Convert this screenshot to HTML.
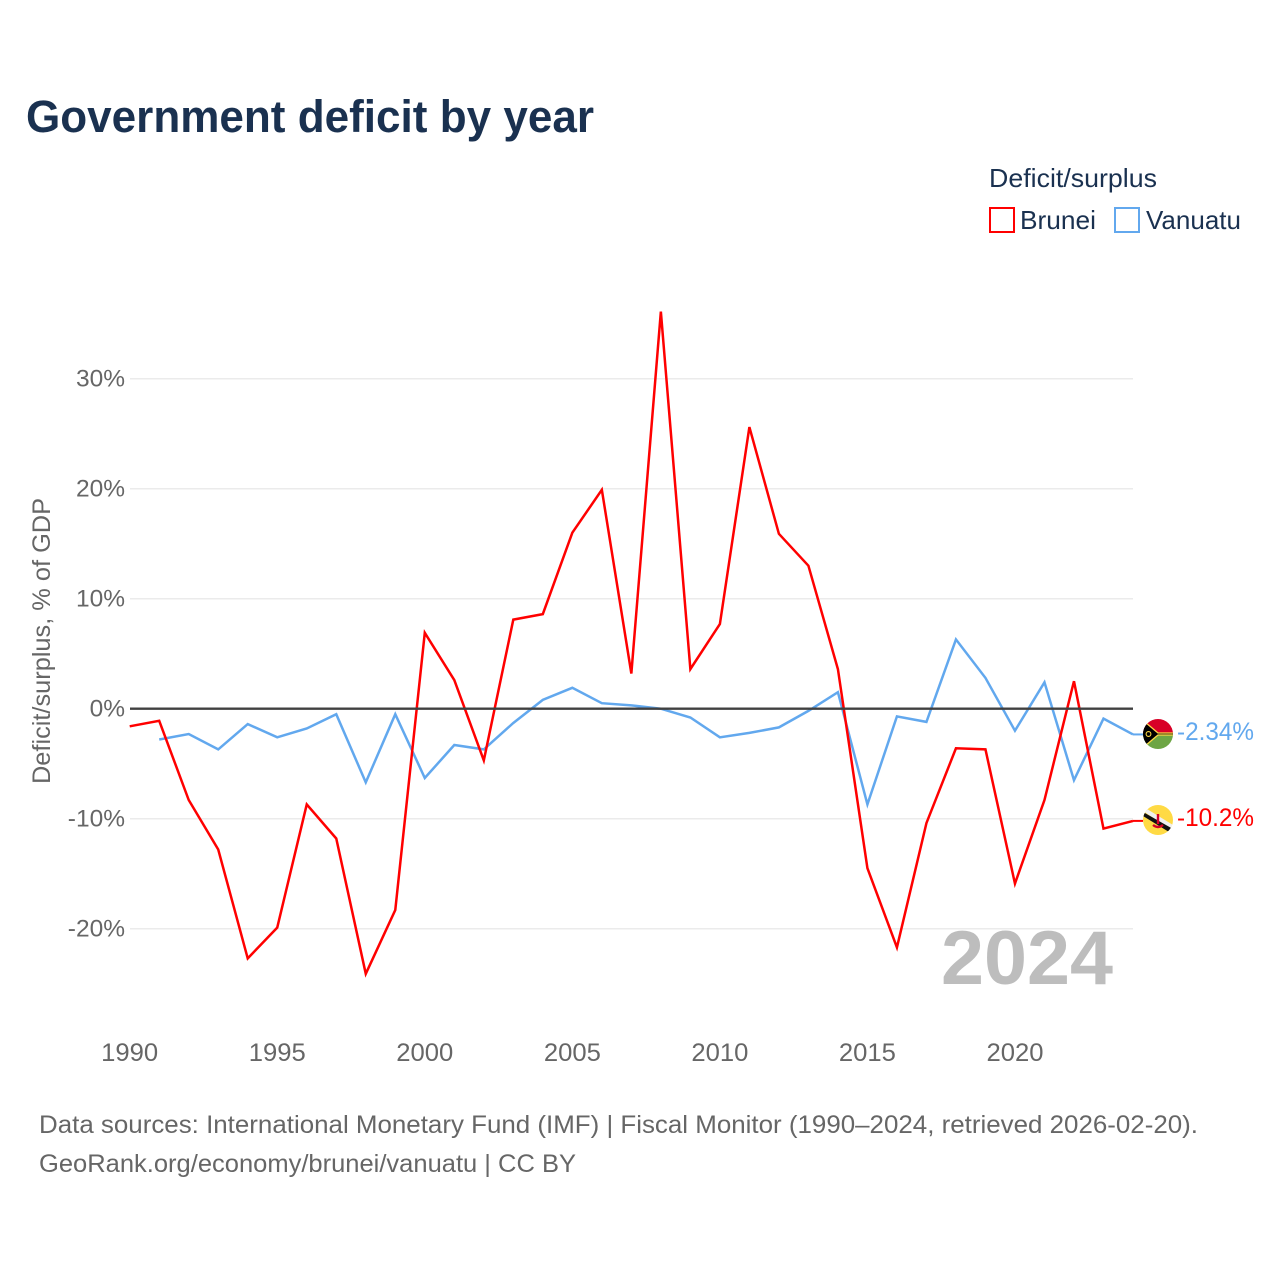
<!DOCTYPE html>
<html lang="en">
<head>
<meta charset="utf-8">
<title>Government deficit by year</title>
<style>
html,body{margin:0;padding:0;background:#fff;}
svg{display:block;font-family:"Liberation Sans",sans-serif;}
</style>
</head>
<body>
<svg id="chart" xmlns="http://www.w3.org/2000/svg" width="1280" height="1280" viewBox="0 0 1280 1280">
  <rect width="1280" height="1280" fill="#fff"/>
  <text x="26" y="132" font-size="45" font-weight="700" fill="#1a3150" textLength="568" lengthAdjust="spacingAndGlyphs">Government deficit by year</text>

  <g>
    <text x="989" y="187" font-size="26" fill="#1a3150" textLength="168" lengthAdjust="spacingAndGlyphs">Deficit/surplus</text>
    <rect x="990" y="208" width="24" height="24" fill="#fff" stroke="#ff0000" stroke-width="2"/>
    <text x="1020" y="229" font-size="26" fill="#1a3150" textLength="76" lengthAdjust="spacingAndGlyphs">Brunei</text>
    <rect x="1115" y="208" width="24" height="24" fill="#fff" stroke="#62a8ee" stroke-width="2"/>
    <text x="1146" y="229" font-size="26" fill="#1a3150" textLength="95" lengthAdjust="spacingAndGlyphs">Vanuatu</text>
  </g>

  <g id="grid"></g>
  <g id="yticks"></g>
  <g id="xticks"></g>
  <text transform="translate(50,641) rotate(-90)" text-anchor="middle" font-size="25" fill="#666" textLength="286" lengthAdjust="spacingAndGlyphs">Deficit/surplus, % of GDP</text>

  <text x="1113" y="984" text-anchor="end" font-size="76" font-weight="700" fill="#bdbdbd" textLength="172" lengthAdjust="spacingAndGlyphs">2024</text>

  <g id="series"></g>
  <line id="zero" x1="130" x2="1133" stroke="#404040" stroke-width="2.4"/>

  <defs>
    <clipPath id="clip-flag-vu"><circle cx="1158" cy="734" r="15"/></clipPath>
    <clipPath id="clip-flag-bn"><circle cx="1158" cy="820" r="15"/></clipPath>
  </defs>
  <g clip-path="url(#clip-flag-vu)">
    <rect x="1143" y="719" width="30" height="15" fill="#d80027"/>
    <rect x="1143" y="734" width="30" height="15" fill="#6da544"/>
    <rect x="1143" y="732.5" width="30" height="3" fill="#000"/>
    <polygon points="1143,721 1158,734 1143,747" fill="#000"/>
    <path d="M1145,722 L1158,733 H1173 M1145,746 L1158,735 H1173" fill="none" stroke="#ffda44" stroke-width="1.2"/>
    <circle cx="1148.5" cy="734" r="2.4" fill="none" stroke="#ffda44" stroke-width="1.1"/>
  </g>
  <g clip-path="url(#clip-flag-bn)">
    <rect x="1143" y="805" width="30" height="30" fill="#ffda44"/>
    <polygon points="1143,811 1147,809 1173,825 1173,831" fill="#f0f0f0"/>
    <polygon points="1143,812 1143,816 1169,832 1173,829" fill="#111"/>
    <path d="M1158,814 V824 M1153,825 Q1158,829 1163,825" fill="none" stroke="#d80027" stroke-width="2.4"/>
  </g>

  <g id="endlabels"></g>

  <text x="39" y="1133" font-size="25" fill="#666" textLength="1159" lengthAdjust="spacingAndGlyphs">Data sources: International Monetary Fund (IMF) | Fiscal Monitor (1990–2024, retrieved 2026-02-20).</text>
  <text x="39" y="1172" font-size="25" fill="#666" textLength="537" lengthAdjust="spacingAndGlyphs">GeoRank.org/economy/brunei/vanuatu | CC BY</text>
</svg>
<script>
const years = [1990,1991,1992,1993,1994,1995,1996,1997,1998,1999,2000,2001,2002,2003,2004,2005,2006,2007,2008,2009,2010,2011,2012,2013,2014,2015,2016,2017,2018,2019,2020,2021,2022,2023,2024];
const bruneiValues = [-1.6,-1.1,-8.3,-12.8,-22.7,-19.9,-8.7,-11.8,-24.1,-18.3,6.9,2.6,-4.7,8.1,8.6,16,19.9,3.2,36.1,3.6,7.7,25.6,15.9,13,3.6,-14.5,-21.7,-10.4,-3.6,-3.7,-15.9,-8.3,2.5,-10.9,-10.2];
const vanuatuValues = [null,-2.8,-2.3,-3.7,-1.4,-2.6,-1.8,-0.5,-6.7,-0.5,-6.3,-3.3,-3.7,-1.3,0.8,1.9,0.5,0.3,0,-0.8,-2.6,-2.2,-1.7,-0.2,1.5,-8.7,-0.7,-1.2,6.3,2.8,-2,2.4,-6.5,-0.9,-2.34];
const yTickValues = [-20,-10,0,10,20,30];
const xTickValues = [1990,1995,2000,2005,2010,2015,2020];
const bruneiEndLabel = "-10.2%";
const vanuatuEndLabel = "-2.34%";

const NS = "http://www.w3.org/2000/svg";
const xScale = function (year) { return 129.7 + (year - 1990) * (1133 - 129.7) / 34; };
const yScale = function (value) { return 708.7 - value * 11.0; };

function make(tag, parentId, attrs, text) {
  const el = document.createElementNS(NS, tag);
  Object.keys(attrs).forEach(function (k) { el.setAttribute(k, attrs[k]); });
  if (text !== undefined) el.textContent = text;
  document.getElementById(parentId).appendChild(el);
  return el;
}

yTickValues.forEach(function (v) {
  const y = yScale(v);
  if (v !== 0) {
    const grid = make("line", "grid", {x1: 130, x2: 1133, y1: y, y2: y, stroke: "#ebebeb", "stroke-width": 1.5});
    
    
  }
  const label = make("text", "yticks", {x: 125, y: y + 8, "text-anchor": "end", "font-size": 24.5, fill: "#666"}, v + "%");
  
  
});

xTickValues.forEach(function (yr) {
  const label = make("text", "xticks", {x: xScale(yr), y: 1061, "text-anchor": "middle", "font-size": 25, fill: "#666", textLength: 57, lengthAdjust: "spacingAndGlyphs"}, String(yr));
  
  
});

const zero = document.getElementById("zero");
zero.setAttribute("y1", yScale(0));
zero.setAttribute("y2", yScale(0));

function linePoints(values) {
  const pts = [];
  values.forEach(function (v, i) {
    if (v !== null) pts.push(xScale(years[i]).toFixed(2) + "," + yScale(v).toFixed(2));
  });
  return pts.join(" ");
}

const vanuatuLine = make("polyline", "series", {points: linePoints(vanuatuValues), fill: "none", stroke: "#62a8ee", "stroke-width": 2.5, "stroke-linejoin": "miter"});


const bruneiLine = make("polyline", "series", {points: linePoints(bruneiValues), fill: "none", stroke: "#ff0000", "stroke-width": 2.5, "stroke-linejoin": "miter"});



const vanuatuLast = vanuatuValues[vanuatuValues.length - 1];
const bruneiLast = bruneiValues[bruneiValues.length - 1];
const vanuatuStub = make("line", "series", {x1: 1133, x2: 1143, y1: yScale(vanuatuLast), y2: yScale(vanuatuLast), stroke: "#62a8ee", "stroke-width": 2});


const bruneiStub = make("line", "series", {x1: 1133, x2: 1143, y1: yScale(bruneiLast), y2: yScale(bruneiLast), stroke: "#ff0000", "stroke-width": 2});



const vanuatuLabel = make("text", "endlabels", {x: 1177, y: 740, "font-size": 25, fill: "#62a8ee", textLength: 77, lengthAdjust: "spacingAndGlyphs"}, vanuatuEndLabel);


const bruneiLabel = make("text", "endlabels", {x: 1177, y: 826, "font-size": 25, fill: "#ff0000", textLength: 77, lengthAdjust: "spacingAndGlyphs"}, bruneiEndLabel);


</script>
</body>
</html>
